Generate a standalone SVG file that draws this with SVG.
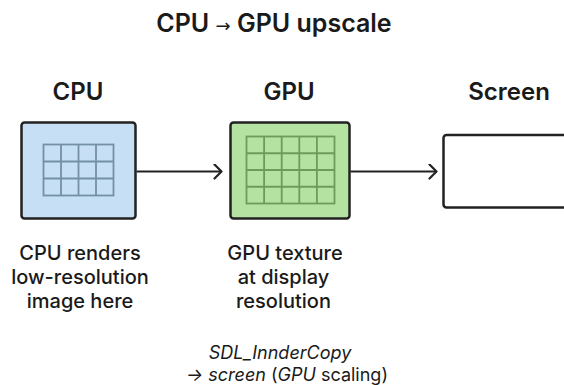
<svg xmlns="http://www.w3.org/2000/svg" width="564" height="385" viewBox="0 0 564 385">
<defs>
<style>
text{font-family:Inter,"Liberation Sans",Arial,sans-serif;fill:#1a1a1a;text-anchor:middle}
.title{font-size:25px;font-weight:600}
.arr{font-family:"DejaVu Sans","Liberation Sans",sans-serif;font-weight:400;font-size:18px}
.head{font-size:24px;font-weight:600}
.desc{font-size:20px;font-weight:500}
.cap{font-size:18px}
.box{stroke:#222;stroke-width:2.5}
.cgrid{fill:none;stroke:#7490a6;stroke-width:1.8}
.ggrid{fill:none;stroke:#6c9c5c;stroke-width:1.8}
.conn{stroke:#222;stroke-width:2;fill:none}
</style>
<marker id="chev" markerWidth="12" markerHeight="16" refX="9" refY="8" orient="auto" markerUnits="userSpaceOnUse">
<path d="M2,1 L9,8 L2,15" fill="none" stroke="#222" stroke-width="2.2" stroke-linecap="round" stroke-linejoin="round"/>
</marker>
</defs>
<rect width="564" height="385" fill="#fff"/>
<text class="title" x="274" y="32">CPU <tspan class="arr">→</tspan> GPU upscale</text>
<g id="cpu">
<text class="head" x="78" y="99.5">CPU</text>
<rect class="box" x="21.5" y="122.5" width="114" height="96" rx="3" fill="#c6dff4"/>
<rect class="cgrid" x="43.5" y="144.5" width="70" height="51"/>
<path class="cgrid" d="M61 144.5V195.5M78.5 144.5V195.5M96 144.5V195.5M43.5 161.5H113.5M43.5 178.5H113.5"/>
<text class="desc" x="80" y="260">CPU renders</text>
<text class="desc" x="80" y="284">low-resolution</text>
<text class="desc" x="80" y="308">image here</text>
</g>
<g id="gpu">
<text class="head" x="289" y="99.5">GPU</text>
<rect class="box" x="230.5" y="122.5" width="119" height="96" rx="3" fill="#b4e2a0"/>
<rect class="ggrid" x="246.5" y="136.5" width="88" height="67"/>
<path class="ggrid" d="M264.1 136.5V203.5M281.7 136.5V203.5M299.3 136.5V203.5M316.9 136.5V203.5M246.5 153.25H334.5M246.5 170H334.5M246.5 186.75H334.5"/>
<text class="desc" x="285" y="260">GPU texture</text>
<text class="desc" x="283.5" y="284">at display</text>
<text class="desc" x="283.5" y="308">resolution</text>
</g>
<g id="screen">
<text class="head" x="509" y="99.5">Screen</text>
<rect class="box" x="443.5" y="135" width="140" height="72.5" rx="3" fill="#fff"/>
</g>
<g id="connectors">
<line class="conn" x1="136.5" y1="171.5" x2="221.5" y2="171.5" marker-end="url(#chev)"/>
<line class="conn" x1="350.5" y1="171.5" x2="436.5" y2="171.5" marker-end="url(#chev)"/>
</g>
<g id="caption">
<text class="cap" x="280" y="359" font-style="italic">SDL_InnderCopy</text>
<text class="cap" x="287" y="381"><tspan font-style="italic">→ screen</tspan> (<tspan font-style="italic">GPU</tspan> scaling)</text>
</g>
</svg>
